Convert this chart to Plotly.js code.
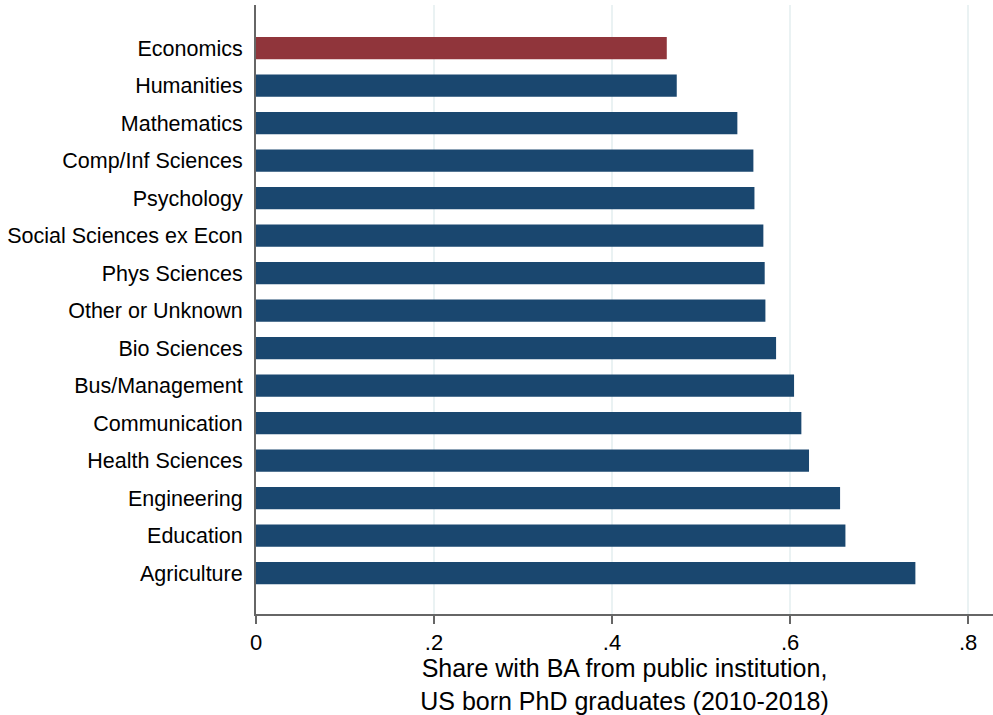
<!DOCTYPE html>
<html>
<head>
<meta charset="utf-8">
<script src="https://cdn.plot.ly/plotly-3.0.1.min.js"></script>
<style>html,body{margin:0;padding:0;background:#fff;}#chart{width:993px;height:715px;}</style>
</head>
<body>
<div id="chart"></div>
<script>
const fields = ["Economics","Humanities","Mathematics","Comp/Inf Sciences","Psychology","Social Sciences ex Econ","Phys Sciences","Other or Unknown","Bio Sciences","Bus/Management","Communication","Health Sciences","Engineering","Education","Agriculture"];
const shares = [0.4615,0.4727,0.5408,0.5588,0.5600,0.5700,0.5715,0.5723,0.5843,0.6045,0.6127,0.6213,0.6562,0.6622,0.7408];
const xTickVals = [0,0.2,0.4,0.6,0.8];
const xTickText = ["0",".2",".4",".6",".8"];
const highlight = "Economics";

const colors = fields.map(f => f === highlight ? "#90353b" : "#1a476f");

const trace = {
  type: "bar",
  orientation: "h",
  x: shares,
  y: fields,
  marker: {color: colors, line: {width: 0}},
  hoverinfo: "x+y"
};

const layout = {
  width: 993, height: 715,
  margin: {l: 256, r: 0, t: 5, b: 101},
  paper_bgcolor: "#ffffff",
  plot_bgcolor: "#ffffff",
  showlegend: false,
  bargap: 0.41,
  font: {family: "Liberation Sans, Arial, sans-serif", color: "#000"},
  xaxis: {
    range: [0, 0.828],
    tickvals: xTickVals,
    ticktext: xTickText,
    showgrid: true,
    gridcolor: "#eaf2f3",
    gridwidth: 1.5,
    zeroline: false,
    showline: true,
    linecolor: "#666666",
    linewidth: 2,
    ticks: "outside",
    ticklen: 8,
    tickwidth: 2,
    tickcolor: "#666666",
    tickfont: {size: 22, color: "#000"},
    title: {text: "Share with BA from public institution,<br>US born PhD graduates (2010-2018)", font: {size: 25, color: "#000"}, standoff: 2}
  },
  yaxis: {
    type: "category",
    range: [15.09, -1.15],
    showgrid: false,
    zeroline: false,
    showline: true,
    linecolor: "#666666",
    linewidth: 2,
    ticks: "",
    ticklabelstandoff: 7,
    tickfont: {size: 21.5, color: "#000"}
  }
};

Plotly.newPlot("chart", [trace], layout, {displayModeBar: false, staticPlot: true});
</script>
</body>
</html>
